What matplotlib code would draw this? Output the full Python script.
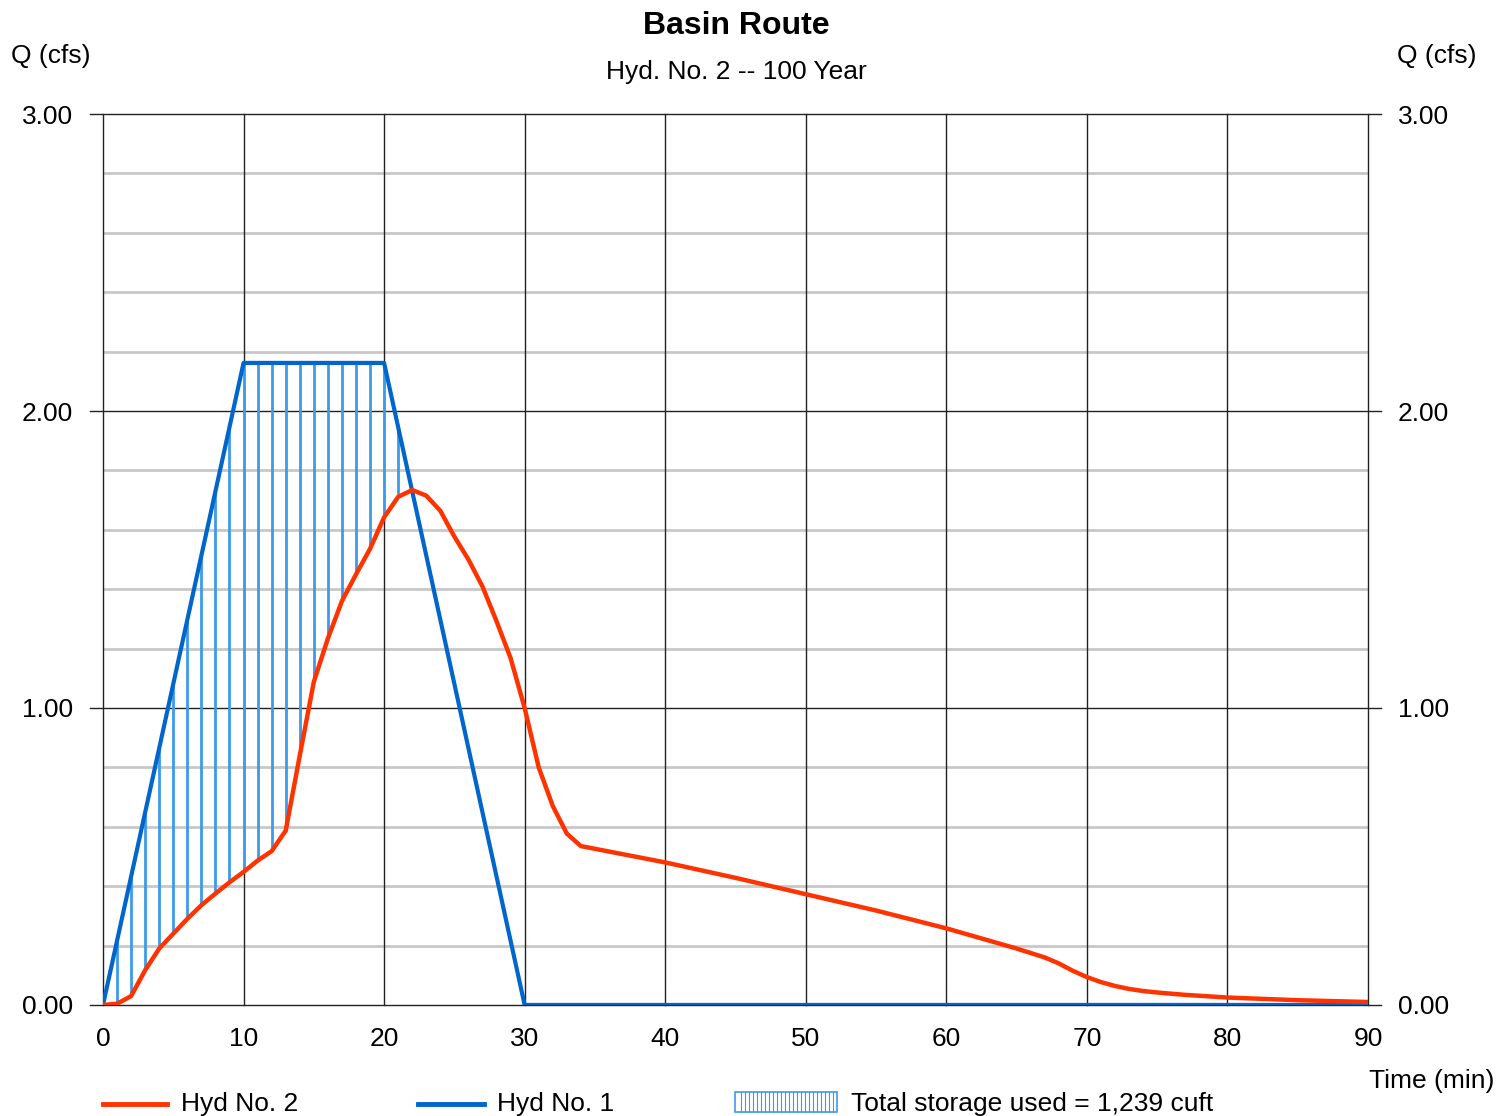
import matplotlib
matplotlib.use("Agg")
import matplotlib.pyplot as plt
from matplotlib.lines import Line2D
from matplotlib.patches import Rectangle
import numpy as np

plt.rcParams["font.family"] = ["Liberation Sans", "DejaVu Sans"]

# outflow hydrograph (Hyd No. 2)
t_out = [0, 1, 2, 3, 4, 5, 6, 7, 8, 9, 10, 11, 12, 13, 14, 15, 16, 17, 18, 19,
         20, 21, 22, 23, 24, 25, 26, 27, 28, 29, 30, 31, 32, 33, 34, 40, 45, 50,
         55, 60, 65, 67, 68, 69, 70, 71, 72, 73, 74, 75, 77, 80, 85, 90]
q_out = [0.0, 0.004, 0.03, 0.117, 0.19, 0.24, 0.29, 0.336, 0.375, 0.413, 0.448,
         0.486, 0.518, 0.587, 0.84, 1.088, 1.234, 1.36, 1.45, 1.536, 1.642,
         1.711, 1.734, 1.715, 1.664, 1.577, 1.5, 1.409, 1.292, 1.168, 1.0, 0.80,
         0.67, 0.577, 0.535, 0.48, 0.428, 0.373, 0.318, 0.258, 0.19, 0.16, 0.14,
         0.115, 0.094, 0.077, 0.064, 0.054, 0.047, 0.042, 0.034, 0.025, 0.016,
         0.01]

# inflow hydrograph (Hyd No. 1)
t_in = [0, 10, 20, 30, 90]
q_in = [0.0, 2.162, 2.162, 0.0, 0.0]

storage_label = "Total storage used = 1,239 cuft"

RED = "#ff3300"
BLUE = "#0066cc"
HATCH = "#3d9be9"
FS = 19

fig = plt.figure(figsize=(14.97, 11.16), dpi=100)
ax = fig.add_axes([0.0688, 0.0995, 0.845, 0.7983])
ax.set_xlim(0, 90)
ax.set_ylim(0, 3)

# grid
for y in np.arange(0.2, 3.0, 0.2):
    if abs(y - round(y)) > 1e-6:
        ax.axhline(y, color="#c8c8c8", lw=2, zorder=0)
for y in [0, 1, 2, 3]:
    ax.plot([-0.9, 90.9], [y, y], color="#222222", lw=1, clip_on=False, zorder=1)
for x in range(0, 91, 10):
    ax.plot([x, x], [0, 3], color="#222222", lw=1, clip_on=False, zorder=1)

# storage hatch: vertical lines at each minute where inflow > outflow
minutes = np.arange(1, 90)
qi = np.interp(minutes, t_in, q_in)
qo = np.interp(minutes, t_out, q_out)
mask = qi > qo
ax.vlines(minutes[mask], qo[mask], qi[mask], color=HATCH, lw=2, zorder=2)

ax.plot(t_in, q_in, color=BLUE, lw=3, zorder=3, solid_capstyle="butt")
ax.plot(t_out, q_out, color=RED, lw=3.2, zorder=4)

for s in ax.spines.values():
    s.set_visible(False)
ax.set_xticks(range(0, 91, 10))
ax.set_yticks([0, 1, 2, 3])
ax.set_yticklabels(["0.00", "1.00", "2.00", "3.00"])
ax.tick_params(axis="x", length=0, pad=16, labelsize=FS)
ax.tick_params(axis="y", length=0, pad=21.5, labelsize=FS, labelright=True)

fig.text(0.4917, 0.9765, "Basin Route", ha="center", va="center", fontsize=23, fontweight="bold")
fig.text(0.4917, 0.9355, "Hyd. No. 2 -- 100 Year", ha="center", va="center", fontsize=FS)
fig.text(0.034, 0.950, "Q (cfs)", ha="center", va="center", fontsize=FS)
fig.text(0.960, 0.950, "Q (cfs)", ha="center", va="center", fontsize=FS)
fig.text(0.998, 0.031, "Time (min)", ha="right", va="center", fontsize=FS)

# legend row
ly = 1 - 1104 / 1116
fig.add_artist(Line2D([103 / 1497, 167 / 1497], [ly, ly], color=RED, lw=3.5))
fig.text(181 / 1497, ly, "Hyd No. 2", ha="left", va="center", fontsize=FS)
fig.add_artist(Line2D([418 / 1497, 484 / 1497], [ly, ly], color=BLUE, lw=3.5))
fig.text(497 / 1497, ly, "Hyd No. 1", ha="left", va="center", fontsize=FS)
box = Rectangle((735 / 1497, 1 - 1112 / 1116), 102 / 1497, 20 / 1116,
                transform=fig.transFigure, facecolor="white", edgecolor=HATCH, lw=1.2)
fig.add_artist(box)
for px in np.arange(741, 837, 4):
    fig.add_artist(Line2D([px / 1497, px / 1497], [1 - 1112 / 1116, 1 - 1092 / 1116],
                          color=HATCH, lw=0.8))
fig.text(851 / 1497, ly, storage_label, ha="left", va="center", fontsize=FS)

fig.savefig("out.png", dpi=100)
